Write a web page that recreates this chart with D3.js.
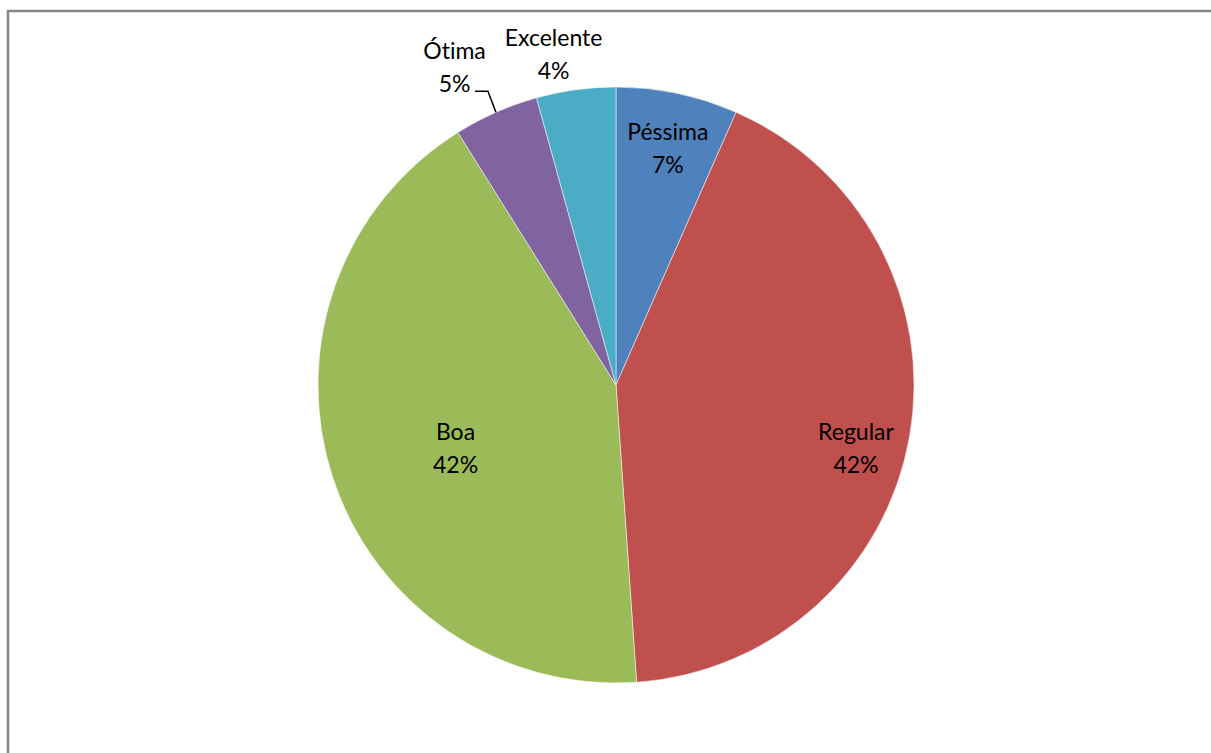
<!DOCTYPE html>
<html>
<head>
<meta charset="utf-8">
<script src="https://cdn.jsdelivr.net/npm/d3@7"></script>
<style>
    body { margin: 0; background: #fff; }
    #chart text { font-family: Lato, "Open Sans", sans-serif; font-size: 23px; fill: #000; font-variant-ligatures: none; }
</style>
</head>
<body>
<div id="chart"></div>
<script>
// data (clockwise from 12 o'clock)
const categories = ["Péssima", "Regular", "Boa", "Ótima", "Excelente"];
const values = [6.6, 42.3, 42.2, 4.6, 4.3];
const colors = ["#4F81BD", "#C0504D", "#9BBB59", "#8064A2", "#4BACC6"];

// label placement: radius factor and angle shift (deg) from the slice middle
const labelRadius = [0.786, 0.84, 0.59, 1.171, 1.104];
const labelShift = [0.9, 6.6, -6.1, -3.8, -3.2];
const leader = [false, false, false, true, false];

const width = 1211, height = 753;
const cx = 616, cy = 385, radius = 298;

let svg = d3.select("#chart").append("svg")
    .attr("width", width)
    .attr("height", height);

// chart area border (runs off the right and bottom edges)
svg.append("rect")
    .attr("x", 8)
    .attr("y", 11)
    .attr("width", 1400)
    .attr("height", 1000)
    .attr("fill", "none")
    .attr("stroke", "#868686")
    .attr("stroke-width", 2.5);

let total = d3.sum(values);
let displayData = categories.map((c, i) => ({key: c, value: values[i], color: colors[i], i: i}));

let pie = d3.pie().sort(null).value(d => d.value);
let arc = d3.arc().innerRadius(0).outerRadius(radius);

let g = svg.append("g")
    .attr("transform", `translate(${cx},${cy})`);

let arcs = pie(displayData);

g.selectAll(".slice")
    .data(arcs)
    .enter()
    .append("path")
    .attr("class", "slice")
    .attr("d", arc)
    .attr("fill", d => d.data.color)
    .attr("stroke", "#fff")
    .attr("stroke-width", 0.5);

let fmt = d3.format(".0%");

arcs.forEach(d => {
    let i = d.data.i;
    let mid = (d.startAngle + d.endAngle) / 2;
    let [x, y] = d3.pointRadial(mid + labelShift[i] * Math.PI / 180, radius * labelRadius[i]);

    let t = g.append("text")
        .attr("text-anchor", "middle");
    t.append("tspan").attr("x", x).attr("y", y - 16.5).text(d.data.key);
    t.append("tspan").attr("x", x).attr("y", y + 16.5).text(fmt(d.data.value / total));

    if (leader[i]) {
        let [ex, ey] = d3.pointRadial(mid, radius);
        let pts = [[ex - 21, ey - 21], [ex - 8, ey - 21], [ex, ey]];
        g.append("path")
            .attr("d", d3.line()(pts))
            .attr("fill", "none")
            .attr("stroke", "#000")
            .attr("stroke-width", 1.5);
    }
});
</script>
</body>
</html>
